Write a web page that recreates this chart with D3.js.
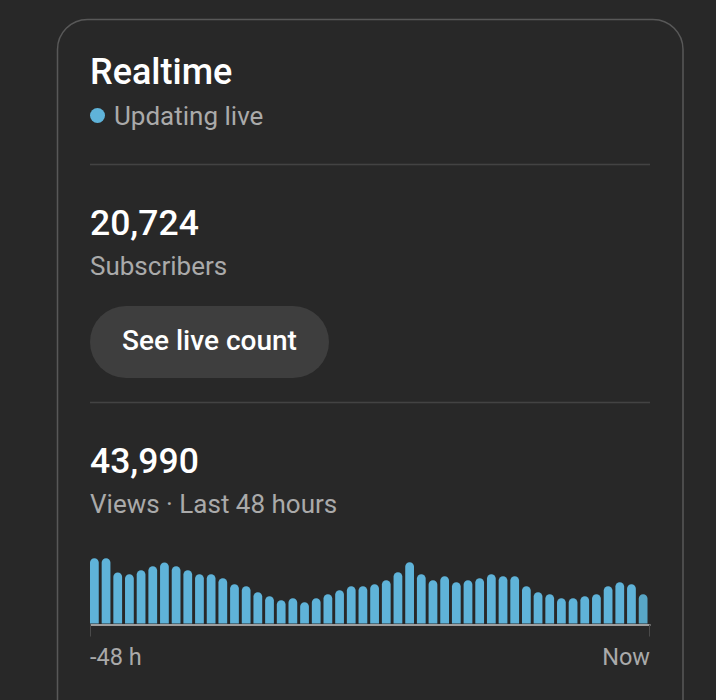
<!DOCTYPE html>
<html>
<head>
<meta charset="utf-8">
<script src="https://cdn.jsdelivr.net/npm/d3@7"></script>
<style>
  html, body { margin: 0; padding: 0; background: #282828; overflow: hidden; }
  svg { display: block; font-family: Roboto, "Noto Sans", sans-serif; }
</style>
</head>
<body>
<div id="chart"></div>
<script>
// hourly views over the last 48 hours, oldest first
const hourOffsets = d3.range(-48, 0);
const views = [
  1446, 1446, 1130, 1092, 1181, 1269, 1351, 1269, 1181, 1092,
  1092, 1003, 870, 826, 693, 605, 516, 560, 472, 560,
  649, 738, 826, 826, 870, 959, 1136, 1358, 1092, 959,
  1048, 915, 959, 1003, 1092, 1048, 1048, 826, 693, 649,
  560, 560, 605, 649, 826, 915, 870, 649
];
const axisLabels = ['-48 h', 'Now'];
const subscriberCount = '20,724';
const viewCount = '43,990';

const width = 716, height = 700;

const svg = d3.create('svg')
  .attr('width', width)
  .attr('height', height);

svg.append('rect')
  .attr('width', width)
  .attr('height', height)
  .attr('fill', '#282828');

// card outline, bottom runs off the page
svg.append('rect')
  .attr('x', 57.5)
  .attr('y', 19.5)
  .attr('width', 625.5)
  .attr('height', 760)
  .attr('rx', 30)
  .attr('fill', '#282828')
  .attr('stroke', '#585858')
  .attr('stroke-width', 1.5);

// header
svg.append('text')
  .attr('x', 90).attr('y', 84)
  .attr('fill', '#ffffff')
  .attr('font-size', 36)
  .attr('font-weight', 500)
  .text('Realtime');

svg.append('circle')
  .attr('cx', 97.5).attr('cy', 115.5)
  .attr('r', 7.5)
  .attr('fill', '#5fb3d9');

svg.append('text')
  .attr('x', 114).attr('y', 124.5)
  .attr('fill', '#aaaaaa')
  .attr('font-size', 26)
  .text('Updating live');

const dividers = [164, 402];
svg.selectAll('line.divider')
  .data(dividers)
  .join('line')
    .attr('class', 'divider')
    .attr('x1', 90).attr('x2', 650)
    .attr('y1', d => d + 0.5).attr('y2', d => d + 0.5)
    .attr('stroke', '#434343')
    .attr('stroke-width', 1.5);

// subscribers block
svg.append('text')
  .attr('x', 90).attr('y', 234.5)
  .attr('fill', '#ffffff')
  .attr('font-size', 35.5)
  .attr('font-weight', 500)
  .text(subscriberCount);

svg.append('text')
  .attr('x', 90).attr('y', 275)
  .attr('fill', '#aaaaaa')
  .attr('font-size', 26)
  .text('Subscribers');

svg.append('rect')
  .attr('x', 90).attr('y', 306)
  .attr('width', 239).attr('height', 72)
  .attr('rx', 36)
  .attr('fill', '#3e3e3e');

svg.append('text')
  .attr('x', 209.5).attr('y', 350)
  .attr('text-anchor', 'middle')
  .attr('fill', '#ffffff')
  .attr('font-size', 28)
  .attr('font-weight', 500)
  .text('See live count');

// views block
svg.append('text')
  .attr('x', 90).attr('y', 472.5)
  .attr('fill', '#ffffff')
  .attr('font-size', 35.5)
  .attr('font-weight', 500)
  .text(viewCount);

svg.append('text')
  .attr('x', 90).attr('y', 512.5)
  .attr('fill', '#aaaaaa')
  .attr('font-size', 26)
  .text('Views \u00b7 Last 48 hours');

// bar chart
const baseline = 623.5;

const x = d3.scaleBand()
  .domain(hourOffsets)
  .range([90, 647.5])
  .paddingInner(0.25)
  .paddingOuter(0);

const y = d3.scaleLinear()
  .domain([0, d3.max(views)])
  .range([baseline, baseline - 65.3]);

const bw = x.bandwidth();
const r = bw / 2;

function barPath(d, i) {
  const x0 = x(hourOffsets[i]);
  const top = y(d);
  return `M${x0},${baseline}` +
    `V${top + r}` +
    `A${r},${r} 0 0 1 ${x0 + bw},${top + r}` +
    `V${baseline}Z`;
}

svg.append('g')
  .selectAll('path')
  .data(views)
  .join('path')
    .attr('d', barPath)
    .attr('fill', (d, i) => i === views.length - 1 ? '#58a6c6' : '#5fb3d9');

// axis: baseline with an end tick at each side
const axisScale = d3.scaleLinear().domain([0, 1]).range([90, 650]);
const axis = svg.append('g')
  .attr('transform', `translate(0,${baseline + 1})`)
  .call(d3.axisBottom(axisScale).tickValues([0, 1]).tickSize(12).tickSizeOuter(0).tickFormat(''));

axis.select('.domain')
  .attr('stroke', '#9e9e9e')
  .attr('stroke-width', 2);
axis.selectAll('.tick line')
  .attr('stroke', '#4a4a4a')
  .attr('stroke-width', 1);
axis.selectAll('.tick')
  .attr('transform', d => `translate(${d === 0 ? 90.5 : 649.5},0)`);

svg.selectAll('text.axis-label')
  .data(axisLabels)
  .join('text')
    .attr('class', 'axis-label')
    .attr('x', (d, i) => i === 0 ? 90 : 650)
    .attr('y', 665)
    .attr('text-anchor', (d, i) => i === 0 ? 'start' : 'end')
    .attr('fill', '#aaaaaa')
    .attr('font-size', 23.5)
    .text(d => d);

d3.select('#chart').node().appendChild(svg.node());
</script>
</body>
</html>
